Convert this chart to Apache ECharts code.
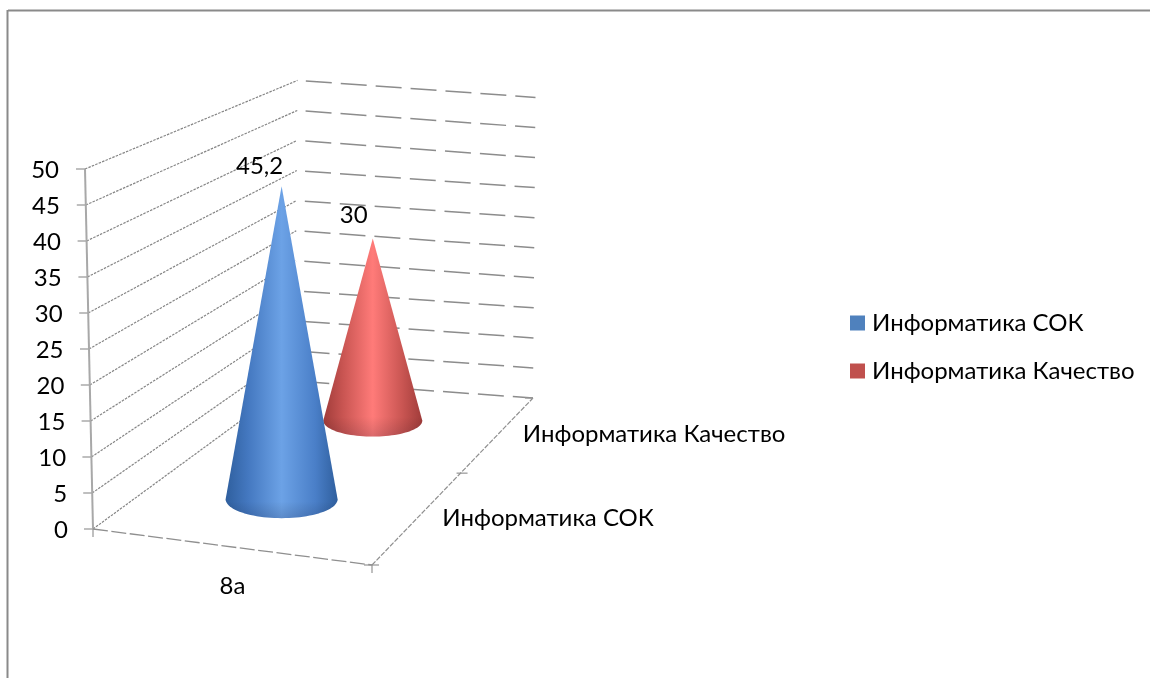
<!DOCTYPE html>
<html>
<head>
<meta charset="utf-8">
<style>html,body{margin:0;padding:0;background:#fff}#c{width:1150px;height:678px}</style>
<script src="https://cdn.jsdelivr.net/npm/echarts@6/dist/echarts.min.js"></script>
</head>
<body>
<div id="c"></div>
<script>
// ---- data ----
const categories = ['8а'];
const yTicks = [0, 5, 10, 15, 20, 25, 30, 35, 40, 45, 50];
const seriesNames = ['Информатика СОК', 'Информатика Качество'];
const sokValues = [45.2];
const qualityValues = [30];

// ---- layout / style ----
const FONT = 'Lato, "Noto Sans", sans-serif';
const FS = 24;
const GRID = '#8c8c8c';
const depthOf = [0.3, 0.8];       // depth of each series along the depth axis
const DEPTH_TICK = 0.55;
const CONE_U = 0.48;              // position along the category band
const coneRadius = [[56, 19], [49.5, 16]];
const labelShift = [[-22, -20], [-19, -23]];
const palettes = [
  ['#2f5f9e', '#4478c0', '#6ca2e6', '#4a7fc8', '#2f5f9e'],
  ['#a03c3a', '#c95552', '#ff7b79', '#c95552', '#a03c3a']
];
const shadeStart = [0.95, 0.9];

// oblique projection of (u along category, d along depth, v value) through the axes' own scales
function project(api, u, d, v) {
  const origin = api.coord([0, 0]);
  const size = api.size([1, 1]);
  const w = size[0], unit = size[1];
  const x0 = origin[0] - w / 2, y0 = origin[1];
  const fx = x0 + u * w, fy = y0 + 36 * u;
  const rx = x0 + 202 + 238 * u, ry = y0 - 148 + 17 * u;
  const px = fx + (rx - fx) * d, py = fy + (ry - fy) * d;
  return [px + v * (-0.16 + 0.21 * d), py - v * unit * (1 - 0.165 * d)];
}
const line = (a, b, style) => ({
  type: 'line', silent: true,
  shape: { x1: a[0], y1: a[1], x2: b[0], y2: b[1] },
  style: Object.assign({ stroke: GRID, lineWidth: 1, fill: null }, style)
});

function renderWall(params, api) {
  const v = api.value(1);
  const p0 = project(api, 0, 0, v);
  const pc = project(api, 0, 1, v);
  const pb = project(api, 0.035, 1, v);
  const pe = project(api, 1, 1, v);
  const kids = [
    line(p0, pc, { lineDash: [2.5, 1.2], stroke: '#858585', lineWidth: 1.2 }),
    line(pb, pe, { lineDash: [26, 9], stroke: '#8c8c8c', lineWidth: 1.5 }),
    line([p0[0] - 9, p0[1]], p0, { stroke: '#949494', lineWidth: 1.2 })
  ];
  if (v > 0) {
    const below = project(api, 0, 0, v - 5);
    kids.push(line(p0, below, { stroke: '#a8a8a8', lineWidth: 2 }));
  }
  return { type: 'group', children: kids };
}

function renderFloor(params, api) {
  const a = project(api, 0, 0, 0), b = project(api, 1, 0, 0), c = project(api, 1, 1, 0);
  const t = project(api, 1, DEPTH_TICK, 0);
  const tick = { stroke: '#949494', lineWidth: 1.2 };
  return {
    type: 'group',
    children: [
      line(a, b, { lineDash: [15, 3.5], stroke: '#8f8f8f', lineWidth: 1.3 }),
      line(b, c, { lineDash: [5, 1.5], stroke: '#8f8f8f', lineWidth: 1.2 }),
      line(a, [a[0], a[1] + 8], tick),
      line([b[0] - 8, b[1]], [b[0] + 7, b[1]], tick),
      line(b, [b[0], b[1] + 8], tick),
      line([c[0] - 8, c[1]], c, tick),
      line([t[0] - 4, t[1]], [t[0] + 7, t[1]], tick)
    ]
  };
}

function renderDepthLabel(params, api) {
  const i = api.value(1);
  const p = project(api, 1, depthOf[i], 0);
  return {
    type: 'text', silent: true,
    style: {
      x: p[0] + 22, y: p[1] + 3, text: seriesNames[i],
      fill: '#000', font: FS + 'px ' + FONT, textAlign: 'left', textVerticalAlign: 'middle'
    }
  };
}

function coneRenderer(idx) {
  return function (params, api) {
    const val = api.value(1);
    const d = depthOf[idx];
    const base = project(api, CONE_U, d, 0);
    const r = coneRadius[idx];
    const unit = api.size([1, 1])[1];
    const scale = unit * (1.032 - 0.236 * d);
    const apex = [base[0], base[1] - val * scale];
    const pts = [apex];
    for (let t = 0; t <= 48; t++) {
      const a = Math.PI * t / 48;
      pts.push([base[0] - r[0] * Math.cos(a), base[1] + r[1] * Math.sin(a)]);
    }
    const pal = palettes[idx];
    const fill = new echarts.graphic.LinearGradient(0, 0, 1, 0, [
      { offset: 0, color: pal[0] }, { offset: 0.2, color: pal[1] },
      { offset: 0.5, color: pal[2] }, { offset: 0.8, color: pal[3] }, { offset: 1, color: pal[4] }
    ]);
    const shade = new echarts.graphic.LinearGradient(0, 0, 0, 1, [
      { offset: 0, color: 'rgba(0,0,0,0)' }, { offset: shadeStart[idx], color: 'rgba(0,0,0,0)' },
      { offset: 1, color: 'rgba(0,0,30,0.14)' }
    ]);
    const txt = String(val).replace('.', ',');
    return {
      type: 'group',
      children: [
        { type: 'polygon', silent: true, shape: { points: pts }, style: { fill: fill } },
        { type: 'polygon', silent: true, shape: { points: pts }, style: { fill: shade } },
        {
          type: 'text', silent: true,
          style: {
            x: apex[0] + labelShift[idx][0], y: apex[1] + labelShift[idx][1], text: txt,
            fill: '#000', font: FS + 'px ' + FONT, textAlign: 'center', textVerticalAlign: 'middle'
          }
        }
      ]
    };
  };
}

// tick labels lean with the slanted axis: each gets its own right padding
const rich = {};
yTicks.forEach(v => { rich['t' + v] = { padding: [2, 25 + 9 * v / 50, 0, 0], fontSize: FS, fontFamily: FONT, color: '#000' }; });

const chart = echarts.init(document.getElementById('c'), null, { renderer: 'canvas' });
chart.setOption({
  animation: false,
  backgroundColor: '#fff',
  grid: { left: 93, width: 279, top: 169, height: 360 },
  xAxis: {
    type: 'category', data: categories,
    axisLine: { show: false }, axisTick: { show: false }, splitLine: { show: false },
    axisLabel: { margin: 45, fontSize: FS, fontFamily: FONT, color: '#000' }
  },
  yAxis: {
    type: 'value', min: 0, max: 50, interval: 5,
    axisLine: { show: false }, axisTick: { show: false }, splitLine: { show: false },
    axisLabel: { margin: 0, formatter: v => '{t' + v + '|' + v + '}', rich: rich }
  },
  legend: {
    orient: 'vertical', left: 850, top: 311, padding: 0, itemWidth: 15, itemHeight: 15, itemGap: 24,
    icon: 'rect', data: seriesNames, selectedMode: false,
    textStyle: { fontSize: FS, lineHeight: 15, fontFamily: FONT, color: '#000', padding: [0, 0, 0, 2] }
  },
  graphic: [
    { type: 'line', silent: true, shape: { x1: 8, y1: 10.5, x2: 1150, y2: 10.5 }, style: { stroke: '#8a8a8a', lineWidth: 2 } },
    { type: 'line', silent: true, shape: { x1: 7.5, y1: 10, x2: 7.5, y2: 678 }, style: { stroke: '#8a8a8a', lineWidth: 2 } }
  ],
  series: [
    { type: 'custom', name: 'walls', silent: true, clip: false, z: 1, renderItem: renderWall,
      data: yTicks.map(v => [0, v]), encode: { x: 0, y: 1 } },
    { type: 'custom', name: 'floor', silent: true, clip: false, z: 1, renderItem: renderFloor,
      data: [[0, 0]], encode: { x: 0, y: 1 } },
    { type: 'custom', name: 'depth', silent: true, clip: false, z: 1, renderItem: renderDepthLabel,
      data: seriesNames.map((n, i) => [0, i]), encode: { x: 0, y: 1 } },
    { type: 'custom', name: seriesNames[1], silent: true, clip: false, z: 2, itemStyle: { color: '#C0504D' },
      renderItem: coneRenderer(1), data: qualityValues.map((v, i) => [i, v]), encode: { x: 0, y: 1 } },
    { type: 'custom', name: seriesNames[0], silent: true, clip: false, z: 3, itemStyle: { color: '#4F81BD' },
      renderItem: coneRenderer(0), data: sokValues.map((v, i) => [i, v]), encode: { x: 0, y: 1 } }
  ]
});
</script>
</body>
</html>
